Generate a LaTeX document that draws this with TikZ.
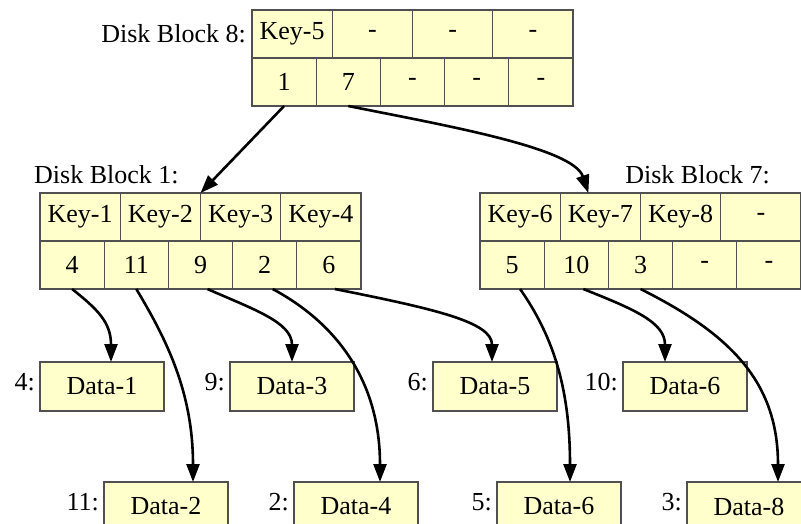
\documentclass[tikz,border=0pt]{standalone}
\usepackage{fontspec}
\setmainfont{Liberation Serif}
\usetikzlibrary{positioning,arrows.meta}

\definecolor{cellfill}{RGB}{255,255,204}
\definecolor{cellline}{RGB}{80,80,80}

\tikzset{
  cell/.style={draw=cellline, fill=cellfill, line width=1.1pt, inner sep=0pt, outer sep=0pt,
    minimum height=48pt, font=\fontsize{26}{30}\selectfont},
  keycell/.style={cell, minimum width=80.25pt},
  ptrcell/.style={cell, minimum width=64.2pt},
  databox/.style={cell, minimum width=124pt, minimum height=49pt},
  blocklabel/.style={inner sep=0pt, font=\fontsize{26}{30}\selectfont},
  tag/.style={inner sep=0pt, anchor=base east, font=\fontsize{26}{30}\selectfont},
  ptr/.style={line width=2.6pt, -{Triangle[length=18pt,width=13pt]}}
}

\begin{document}
\begin{tikzpicture}[x=1pt, y=-1pt]
    \clip (0,0) rectangle (801,523);

    % root block
    \begin{scope}[shift={(252,10)}]
      \foreach \t [count=\i] in {Key-5,-,-,-}
        \node[keycell] (k8-\i) at ({(\i-0.5)*80.25},24) {\t};
      \foreach \t [count=\i] in {1,7,-,-,-}
        \node[ptrcell] (p8-\i) at ({(\i-0.5)*64.2},72) {\t};
    \end{scope}
    \node[blocklabel, left=6pt of k8-1] (lbl8) {Disk Block 8:};

    % leaf blocks
    \begin{scope}[shift={(40,193)}]
      \foreach \t [count=\i] in {Key-1,Key-2,Key-3,Key-4}
        \node[keycell] (k1-\i) at ({(\i-0.5)*80.25},24) {\t};
      \foreach \t [count=\i] in {4,11,9,2,6}
        \node[ptrcell] (p1-\i) at ({(\i-0.5)*64.2},72) {\t};
    \end{scope}
    \node[blocklabel, anchor=base west] (lbl1) at ([xshift=-6pt,yshift=10pt]k1-1.north west) {Disk Block 1:};

    \begin{scope}[shift={(480,193)}]
      \foreach \t [count=\i] in {Key-6,Key-7,Key-8,-}
        \node[keycell] (k7-\i) at ({(\i-0.5)*80.25},24) {\t};
      \foreach \t [count=\i] in {5,10,3,-,-}
        \node[ptrcell] (p7-\i) at ({(\i-0.5)*64.2},72) {\t};
    \end{scope}
    \node[blocklabel, anchor=base east] (lbl7) at ([xshift=-31pt,yshift=10pt]k7-4.north east) {Disk Block 7:};

    % data records
    \foreach \n/\x/\y/\t/\a in {d1/40/362/Data-1/4, d2/104/482/Data-2/11, d3/230/362/Data-3/9,
        d4/294/482/Data-4/2, d5/433/362/Data-5/6, d6/497/482/Data-6/5,
        d7/623/362/Data-6/10, d8/687/482/Data-8/3} {
      \node[databox, anchor=north west] (\n) at (\x,\y) {\t};
      \node[tag] (\n-tag) at ([xshift=-5pt,yshift=-28pt]\n.north west) {\a:};
    }

    % pointers
    \draw[ptr] (p8-1.south) -- (k1-2.north east);
    \draw[ptr] (p8-2.south) .. controls +(100,20) and +(-15,-45) .. ([xshift=-12pt]k7-2.north);

    \draw[ptr] (p1-1.south) .. controls +(25,20) and +(0,-40) .. ([xshift=9pt]d1.north);
    \draw[ptr] (p1-2.south) .. controls +(30,50) and +(0,-90) .. ([xshift=27pt]d2.north);
    \draw[ptr] ([xshift=7pt]p1-3.south) .. controls +(45,20) and +(0,-40) .. (d3.north);
    \draw[ptr] ([xshift=8pt]p1-4.south) .. controls +(65,35) and +(0,-100) .. ([xshift=24pt]d4.north);
    \draw[ptr] ([xshift=6pt]p1-5.south) .. controls +(100,20) and +(0,-40) .. ([xshift=-3pt]d5.north);

    \draw[ptr] ([xshift=8pt]p7-1.south) .. controls +(35,50) and +(0,-90) .. ([xshift=11pt]d6.north);
    \draw[ptr] ([xshift=7pt]p7-2.south) .. controls +(50,20) and +(0,-40) .. ([xshift=-20pt]d7.north);
    \draw[ptr] (p7-3.south) .. controls +(90,45) and +(0,-100) .. ([xshift=29pt]d8.north);
\end{tikzpicture}
\end{document}
